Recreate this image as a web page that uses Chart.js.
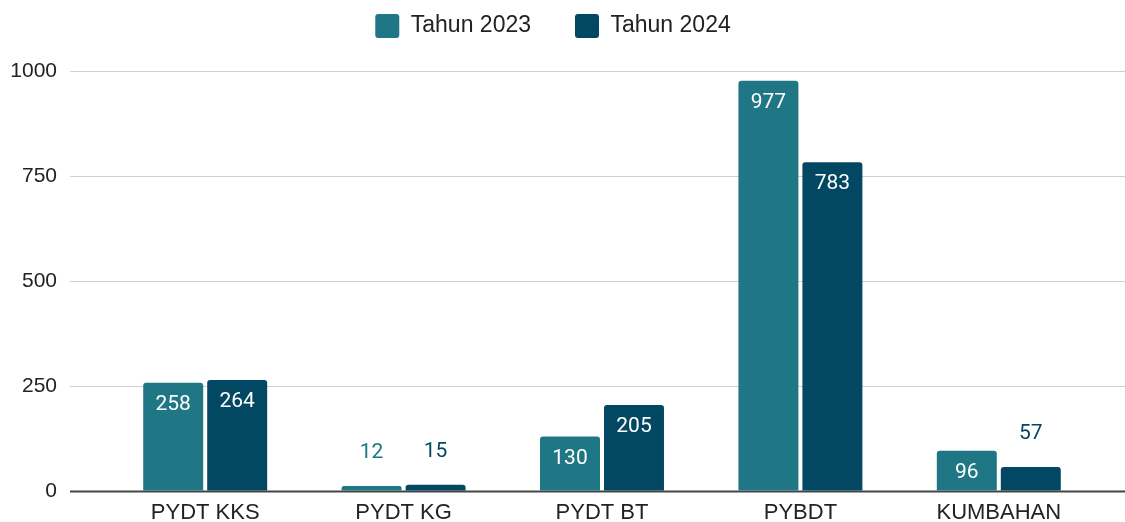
<!DOCTYPE html>
<html>
<head>
<meta charset="utf-8">
<script src="https://cdn.jsdelivr.net/npm/chart.js@4.4.1/dist/chart.umd.min.js"></script>
<style>
html,body{margin:0;padding:0;background:#fff;}
#wrap{width:1125px;height:522px;position:relative;}
</style>
</head>
<body>
<div id="wrap"><canvas id="c" width="1125" height="522"></canvas></div>
<script>
const categories = ["PYDT KKS", "PYDT KG", "PYDT BT", "PYBDT", "KUMBAHAN"];
const seriesNames = ["Tahun 2023", "Tahun 2024"];
const values2023 = [258, 12, 130, 977, 96];
const values2024 = [264, 15, 205, 783, 57];
const yTicks = [0, 250, 500, 750, 1000];

const colors = ["#1f7684", "#034862"];

const gridPlugin = {
  id: 'extGrid',
  beforeDatasetsDraw(chart) {
    const ctx = chart.ctx;
    const ys = chart.scales.y;
    ctx.save();
    yTicks.forEach(v => {
      const y = Math.round(ys.getPixelForValue(v)) + 0.5;
      ctx.beginPath();
      ctx.strokeStyle = v === 0 ? '#454545' : '#cfcfcf';
      ctx.lineWidth = v === 0 ? 2 : 1.2;
      ctx.moveTo(70, y);
      ctx.lineTo(1125, y);
      ctx.stroke();
    });
    ctx.restore();
  }
};

const labelPlugin = {
  id: 'valLabels',
  afterDatasetsDraw(chart) {
    const ctx = chart.ctx;
    ctx.save();
    ctx.font = '21px Roboto';
    ctx.textAlign = 'center';
    ctx.textBaseline = 'middle';
    chart.data.datasets.forEach((ds, di) => {
      const meta = chart.getDatasetMeta(di);
      meta.data.forEach((el, i) => {
        const h = el.base - el.y;
        if (h > 35) {
          ctx.fillStyle = '#ffffff';
          ctx.fillText(String(ds.data[i]), el.x, el.y + 22);
        } else {
          ctx.fillStyle = ds.backgroundColor;
          ctx.fillText(String(ds.data[i]), el.x, el.y - 33);
        }
      });
    });
    ctx.restore();
  }
};

const legendSpacer = {
  id: 'legendSpacer',
  beforeLayout(chart) {
    const lg = chart.legend;
    if (lg && !lg._wrapped) {
      const orig = lg.fit;
      lg.fit = function () { orig.call(this); this.height = 101; };
      lg._wrapped = true;
    }
  }
};

new Chart(document.getElementById('c'), {
  type: 'bar',
  data: {
    labels: categories,
    datasets: [
      { label: seriesNames[0], data: values2023, backgroundColor: colors[0], borderRadius: {topLeft: 3, topRight: 3}, borderSkipped: 'bottom' },
      { label: seriesNames[1], data: values2024, backgroundColor: colors[1], borderRadius: {topLeft: 3, topRight: 3}, borderSkipped: 'bottom' }
    ]
  },
  options: {
    responsive: false,
    animation: false,
    devicePixelRatio: 1,
    categoryPercentage: 0.645,
    barPercentage: 0.9375,
    layout: { autoPadding: false, padding: { left: 8, right: 27, top: -30, bottom: 0 } },
    plugins: {
      legend: {
        position: 'top',
        labels: {
          font: { family: 'Liberation Sans', size: 23 },
          color: '#222',
          boxWidth: 24,
          boxHeight: 24,
          useBorderRadius: true,
          borderRadius: 3,
          padding: 44
        }
      },
      tooltip: { enabled: false }
    },
    scales: {
      x: {
        grid: { display: false, drawTicks: false },
        border: { display: false },
        ticks: { font: { family: 'Liberation Sans', size: 22 }, color: '#222', padding: 9 },
        afterFit(s) { s.height = 31; }
      },
      y: {
        min: 0, max: 1000,
        afterBuildTicks(s) { s.ticks = yTicks.map(v => ({ value: v })); },
        grid: { display: true, drawOnChartArea: false, drawTicks: true, tickLength: 49, color: 'rgba(0,0,0,0)' },
        border: { display: false },
        ticks: { font: { family: 'Liberation Sans', size: 21 }, color: '#222', padding: 0, callback: v => String(v) },
        afterFit(s) { s.width = 98; }
      }
    }
  },
  plugins: [legendSpacer, gridPlugin, labelPlugin]
});
</script>
</body>
</html>
